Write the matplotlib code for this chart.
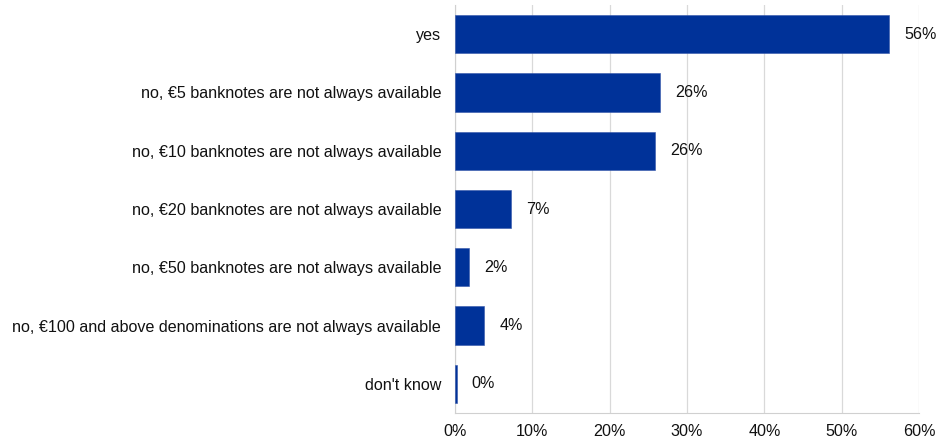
import matplotlib.pyplot as plt
from matplotlib.ticker import PercentFormatter

plt.rcParams['font.family'] = ['Liberation Sans', 'DejaVu Sans']

categories = [
    "yes",
    "no, €5 banknotes are not always available",
    "no, €10 banknotes are not always available",
    "no, €20 banknotes are not always available",
    "no, €50 banknotes are not always available",
    "no, €100 and above denominations are not always available",
    "don't know",
]
values = [56.1, 26.5, 25.8, 7.2, 1.8, 3.8, 0.2]
labels = ["56%", "26%", "26%", "7%", "2%", "4%", "0%"]

fig = plt.figure(figsize=(9.47, 4.43), dpi=100)
ax = fig.add_axes([0.4805, 0.0677, 0.4899, 0.921])

y = list(range(len(categories)))
ax.barh(y, values, height=0.655, color='#003299', edgecolor='#3355aa', linewidth=0.4, zorder=3)
ax.set_yticks(y)
ax.set_yticklabels(categories)
ax.set_ylim(len(categories) - 0.5, -0.5)
ax.set_xlim(0, 60)
ax.set_xticks(range(0, 61, 10))
ax.xaxis.set_major_formatter(PercentFormatter(decimals=0))

for yi, v, lab in zip(y, values, labels):
    ax.annotate(lab, (v, yi), xytext=(11, 0), textcoords='offset points',
                va='center', ha='left', fontsize=11.6, color='#111111')

ax.grid(axis='x', color='#d9d9d9', linewidth=0.9, zorder=0)
for s in ['top', 'right']:
    ax.spines[s].set_visible(False)
for s in ['left', 'bottom']:
    ax.spines[s].set_color('#d0d0d0')
ax.tick_params(axis='both', length=0, labelsize=11.6, colors='#111111')
ax.tick_params(axis='y', pad=10)
ax.tick_params(axis='x', pad=8)

fig.savefig('out.png', dpi=100)
